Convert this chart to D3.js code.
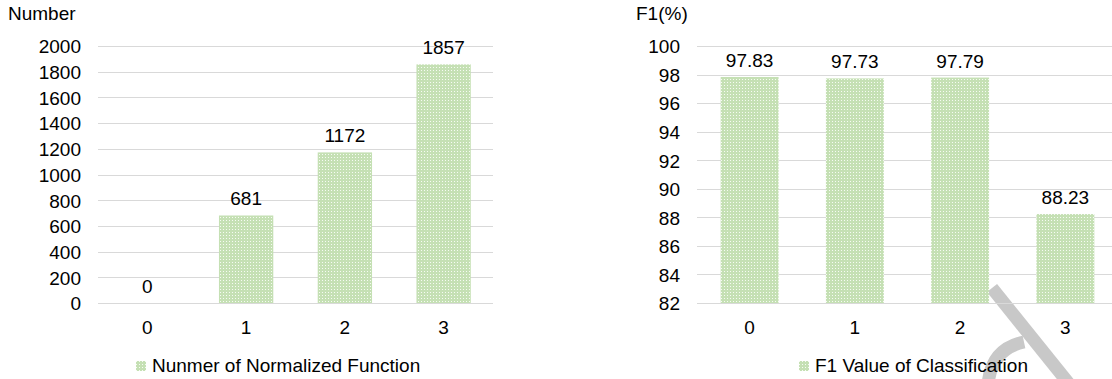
<!DOCTYPE html>
<html>
<head>
<meta charset="utf-8">
<script src="https://cdn.jsdelivr.net/npm/d3@7"></script>
<style>
  html, body { margin: 0; padding: 0; background: #fff; }
  svg { display: block; font-family: "Liberation Sans", Arial, sans-serif; }
</style>
</head>
<body>
<svg id="chart" width="1112" height="379"></svg>
<script>
// Left panel: number of normalized functions per level
const countCategories = ["0", "1", "2", "3"];
const countValues = [0, 681, 1172, 1857];
const countTicks = [0, 200, 400, 600, 800, 1000, 1200, 1400, 1600, 1800, 2000];
const countSeriesName = "Nunmer of Normalized Function";
const countAxisTitle = "Number";

// Right panel: F1 score of classification per level
const f1Categories = ["0", "1", "2", "3"];
const f1Values = [97.83, 97.73, 97.79, 88.23];
const f1Ticks = [82, 84, 86, 88, 90, 92, 94, 96, 98, 100];
const f1SeriesName = "F1 Value of Classification";
const f1AxisTitle = "F1(%)";

const svg = d3.select("#chart");
const fontSize = 19;
const gridColor = "#d9d9d9";
const textColor = "#000";

// dotted green fill used by all bars and legend swatches
const defs = svg.append("defs");
const pat = defs.append("pattern")
  .attr("id", "dots")
  .attr("width", 3).attr("height", 3)
  .attr("patternUnits", "userSpaceOnUse");
pat.append("rect").attr("width", 3).attr("height", 3).attr("fill", "#c5e0b4");
pat.append("rect").attr("x", 1).attr("y", 1).attr("width", 1).attr("height", 1).attr("fill", "#f6fbf3");

// grey mark in the lower right corner, kept beneath the text
const mark = svg.append("g").attr("fill", "none").attr("stroke", "#c8c8c8")
  .attr("stroke-width", 13).attr("stroke-linecap", "butt");
mark.append("path").attr("d", "M 992 288 L 1070 385");
mark.append("path").attr("d", "M 988 385 Q 991 349 1024 342");

function panel(opts) {
  const { categories, values, ticks, domain, xRange, yRange, tickRight,
          title, titleX, seriesName, legendX, format } = opts;
  const g = svg.append("g");

  const x = d3.scaleBand()
    .domain(categories)
    .range(xRange)
    .paddingInner(0.45)
    .paddingOuter(0.225);

  const y = d3.scaleLinear().domain(domain).range(yRange);

  // horizontal gridlines
  g.append("g").selectAll("line")
    .data(ticks)
    .join("line")
    .attr("x1", xRange[0]).attr("x2", xRange[1])
    .attr("y1", d => Math.round(y(d)) + 0.5)
    .attr("y2", d => Math.round(y(d)) + 0.5)
    .attr("stroke", gridColor).attr("stroke-width", 1.2);

  // y tick labels through a left axis positioned at the label edge
  const yAxis = d3.axisLeft(y).tickValues(ticks).tickFormat(d3.format("d"))
    .tickSize(0).tickPadding(0);
  const ya = g.append("g").attr("transform", `translate(${tickRight},0)`).call(yAxis);
  ya.select(".domain").remove();
  ya.selectAll("text")
    .attr("font-size", fontSize)
    .attr("font-family", "Liberation Sans, Arial, sans-serif")
    .attr("fill", textColor)
    .attr("dy", "0.36em");

  // category labels
  const xAxis = d3.axisBottom(x).tickSize(0).tickPadding(0);
  const xa = g.append("g").attr("transform", `translate(0,${yRange[0]})`).call(xAxis);
  xa.select(".domain").remove();
  xa.selectAll("text")
    .attr("font-size", fontSize)
    .attr("font-family", "Liberation Sans, Arial, sans-serif")
    .attr("fill", textColor)
    .attr("dy", null)
    .attr("y", 30.5);

  // bars
  g.append("g").selectAll("rect")
    .data(values)
    .join("rect")
    .attr("x", (d, i) => x(categories[i]))
    .attr("width", x.bandwidth())
    .attr("y", d => y(d))
    .attr("height", d => y(domain[0]) - y(d))
    .attr("fill", "url(#dots)");

  // value labels
  g.append("g").selectAll("text")
    .data(values)
    .join("text")
    .attr("x", (d, i) => x(categories[i]) + x.bandwidth() / 2)
    .attr("y", d => y(d) - 10)
    .attr("text-anchor", "middle")
    .attr("font-size", fontSize)
    .attr("fill", textColor)
    .text(d => format(d));

  // axis title
  g.append("text")
    .attr("x", titleX).attr("y", 20)
    .attr("font-size", fontSize)
    .attr("fill", textColor)
    .text(title);

  // legend
  g.append("rect")
    .attr("x", legendX).attr("y", 361)
    .attr("width", 10).attr("height", 10)
    .attr("fill", "url(#dots)");
  g.append("text")
    .attr("x", legendX + 16).attr("y", 372)
    .attr("font-size", fontSize)
    .attr("fill", textColor)
    .text(seriesName);
}

panel({
  categories: countCategories, values: countValues, ticks: countTicks,
  domain: [0, 2000], xRange: [98, 493], yRange: [303, 46], tickRight: 81,
  title: countAxisTitle, titleX: 8, seriesName: countSeriesName, legendX: 136,
  format: d3.format("d")
});

panel({
  categories: f1Categories, values: f1Values, ticks: f1Ticks,
  domain: [82, 100], xRange: [697, 1118], yRange: [303, 46], tickRight: 680,
  title: f1AxisTitle, titleX: 636, seriesName: f1SeriesName, legendX: 799,
  format: d3.format(".2f")
});
</script>
</body>
</html>
